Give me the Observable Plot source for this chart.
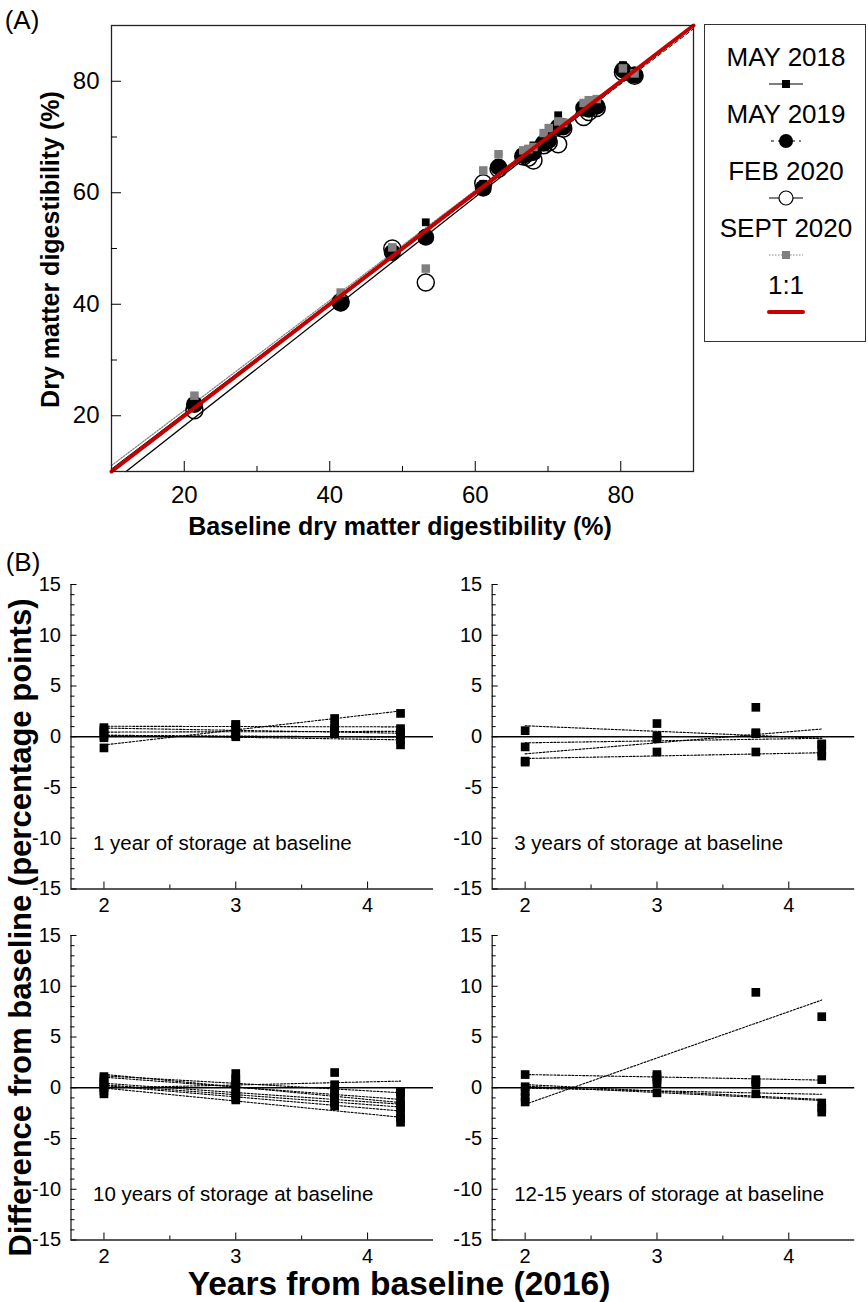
<!DOCTYPE html>
<html><head><meta charset="utf-8">
<script src="https://cdn.jsdelivr.net/npm/d3@7"></script>
<script src="https://cdn.jsdelivr.net/npm/@observablehq/plot@0.6"></script>
<style>
html,body{margin:0;padding:0;background:#fff;}
#root{position:relative;width:868px;height:1302px;overflow:hidden;font-family:"Liberation Sans",Arial,Helvetica,sans-serif;color:#000;}
#root > *{position:absolute;}
</style></head>
<body><div id="root"></div>
<script>
// ---------- Panel A data ----------
const dates = ["MAY 2018", "MAY 2019", "FEB 2020", "SEPT 2020"];
const baseline = [21.4, 41.5, 48.6, 53.2, 61.1, 63.2, 66.6, 67.3, 68.0, 69.4, 70.1, 71.4, 72.1, 74.9, 75.6, 76.7, 80.3, 81.9];
const may2018  = [22.3, 40.8, 49.0, 54.7, 61.6, 65.0, 67.3, 67.9, 68.5, 69.8, 70.6, 73.9, 72.6, 75.6, 76.1, 76.3, 82.9, 81.6];
const may2019  = [22.0, 40.2, 49.3, 52.0, 60.8, 64.6, 66.7, 67.0, 67.2, 68.9, 69.4, 71.8, 71.8, 75.2, 75.0, 75.5, 82.0, 81.1];
const feb2020  = [21.0, 40.4, 50.0, 43.9, 61.7, 64.3, 66.5, 66.3, 65.8, 68.5, 69.0, 68.7, 71.5, 73.6, 74.5, 75.2, 81.6, 81.0];
const sept2020 = [23.6, 42.1, 50.2, 46.4, 64.0, 66.9, 67.6, 67.8, 68.2, 70.7, 71.6, 72.8, 72.5, 76.1, 76.6, 76.8, 82.3, 81.4];
const fitIntercept = [0.5, 0.3, -2.31, 1.2];
const fitSlope = [0.995, 0.99, 1.0256, 0.987];
const oneToOne = [10, 90];
const ticksA = [20, 40, 60, 80];
const minorTicksA = [30, 50, 70];

// ---------- Panel B data ----------
const yearsFromBaseline = [2, 3, 3.75, 4.25];
const panelTitles = ["1 year of storage at baseline", "3 years of storage at baseline", "10 years of storage at baseline", "12-15 years of storage at baseline"];
const storage1yr = [
  [-1.1, 1.2, 1.8, 2.3],
  [0.9, 1.2, 1.1, 0.8],
  [0.7, 0.9, 0.5, 0.2],
  [0.5, 0.3, 0.8, 0.4],
  [0.1, 0.0, 0.4, -0.3],
  [-0.1, 0.2, 0.3, -0.8]
];
const storage3yr = [
  [0.6, 1.3, 0.4, -0.7],
  [-1.0, 0.1, 0.3, -0.8],
  [-2.5, -0.2, 2.9, -1.5],
  [-2.4, -1.5, -1.5, -1.9]
];
const storage10yr = [
  [1.1, 0.6, -0.2, -0.5],
  [0.9, 0.3, -0.6, -1.3],
  [0.6, 1.4, -0.9, -2.0],
  [0.3, -0.2, -1.2, -1.7],
  [0.0, -0.6, -1.5, -2.6],
  [-0.3, -1.0, -1.8, -3.4],
  [-0.6, 0.9, 1.5, -0.4],
  [0.2, -1.2, 0.3, -3.0]
];
const storage12to15yr = [
  [-1.4, 1.3, 9.4, 7.0],
  [1.3, 1.1, 0.8, 0.8],
  [0.1, -0.5, -0.6, -1.5],
  [-0.4, 0.5, 0.3, -2.4],
  [-0.9, 0.8, 0.6, -2.0]
];
const xDomainB = [1.75, 4.5];
const yDomainB = [-15, 15];
const xTicksB = [2, 3, 4];
const xMinorB = [2.5, 3.5];
const yTicksB = [-15, -10, -5, 0, 5, 10, 15];

// ---------- helpers ----------
const root = document.getElementById("root");
const FONT = '"Liberation Sans", Arial, Helvetica, sans-serif';
function place(el, left, top) { el.style.left = left + "px"; el.style.top = top + "px"; root.appendChild(el); return el; }
function label(text, {cx, top, size, bold = false, rotate = false, cy}) {
  const d = document.createElement("div");
  d.textContent = text;
  d.style.fontSize = size + "px";
  d.style.lineHeight = size + "px";
  d.style.height = size + "px";
  d.style.fontWeight = bold ? "bold" : "normal";
  d.style.whiteSpace = "nowrap";
  d.style.textAlign = "center";
  const w = 800;
  d.style.width = w + "px";
  if (rotate) {
    d.style.transform = "rotate(-90deg)";
    place(d, cx - w / 2, cy - size / 2);
  } else {
    place(d, cx - w / 2, top);
  }
  return d;
}
const svgStyle = {fontFamily: FONT, color: "black", background: "transparent", overflow: "visible"};

// ---------- Panel A ----------
const seriesA = [may2018, may2019, feb2020, sept2020];
const rowsA = dates.flatMap((d, j) => baseline.map((b, i) => ({date: d, base: b, dmd: seriesA[j][i]})));
const fitRows = dates.flatMap((d, j) => {
  const a = fitIntercept[j], b = fitSlope[j];
  const lo = Math.max(oneToOne[0], (oneToOne[0] - a) / b);
  const hi = Math.min(oneToOne[1], (oneToOne[1] - a) / b);
  return [lo, hi].map(x => ({date: d, x, y: a + b * x}));
});
const oneRows = oneToOne.map(v => ({x: v, y: v}));
const lineStyles = {
  "MAY 2018": {stroke: "black", strokeWidth: 1},
  "MAY 2019": {stroke: "black", strokeWidth: 1, strokeDasharray: "4,3"},
  "FEB 2020": {stroke: "black", strokeWidth: 1.3},
  "SEPT 2020": {stroke: "#888", strokeWidth: 1.3, strokeDasharray: "1.5,1.5"}
};
const byDate = d => rowsA.filter(r => r.date === d);

const plotA = Plot.plot({
  width: 700, height: 515,
  marginLeft: 111, marginRight: 7, marginTop: 25, marginBottom: 44,
  x: {domain: oneToOne, label: null}, y: {domain: oneToOne, label: null},
  style: {...svgStyle, fontSize: "24px"},
  marks: [
    ...dates.map(d => Plot.line(fitRows.filter(r => r.date === d), {x: "x", y: "y", ...lineStyles[d]})),
    Plot.dot(byDate("FEB 2020"), {x: "base", y: "dmd", r: 8.5, fill: "none", stroke: "black", strokeWidth: 1.5}),
    Plot.dot(byDate("MAY 2019"), {x: "base", y: "dmd", r: 8.5, fill: "black"}),
    Plot.dot(byDate("MAY 2018"), {x: "base", y: "dmd", symbol: "square", r: 4.4, fill: "black"}),
    Plot.dot(byDate("SEPT 2020"), {x: "base", y: "dmd", symbol: "square", r: 4.8, fill: "#808080"}),
    Plot.line(oneRows, {x: "x", y: "y", stroke: "#c40000", strokeWidth: 4}),
    Plot.frame({stroke: "#222", strokeWidth: 1.3}),
    Plot.axisX({ticks: ticksA, tickSize: -10, tickPadding: 24, fontSize: 24, tickFormat: d => d, label: null}),
    Plot.axisX({ticks: minorTicksA, tickSize: -5, tickFormat: () => "", label: null}),
    Plot.axisY({ticks: ticksA, tickSize: -10, tickPadding: 22, fontSize: 24, tickFormat: d => d, label: null}),
    Plot.axisY({ticks: minorTicksA, tickSize: -6, tickFormat: () => "", label: null})
  ]
});
place(plotA, 0, 0);

label("(A)", {cx: 22, top: 7, size: 26});
label("Dry matter digestibility (%)", {cx: 50, cy: 249, size: 25, bold: true, rotate: true});
label("Baseline dry matter digestibility (%)", {cx: 400, top: 514, size: 25, bold: true});

// Legend
const legend = document.createElement("div");
legend.style.width = "160px"; legend.style.height = "316px";
legend.style.border = "1.5px solid #333";
legend.style.background = "#fff";
place(legend, 704, 24);
const legendSymbols = {
  "MAY 2018": `<line x1="2" y1="10" x2="36" y2="10" stroke="black" stroke-width="1.2"/><rect x="15" y="6" width="8" height="8" fill="black"/>`,
  "MAY 2019": `<line x1="4" y1="10" x2="34" y2="10" stroke="black" stroke-width="1.2" stroke-dasharray="3,4"/><circle cx="19" cy="10" r="7" fill="black"/>`,
  "FEB 2020": `<line x1="2" y1="10" x2="36" y2="10" stroke="black" stroke-width="1.2"/><circle cx="19" cy="10" r="7" fill="white" stroke="black" stroke-width="1.2"/>`,
  "SEPT 2020": `<line x1="2" y1="10" x2="36" y2="10" stroke="#888" stroke-width="1.2" stroke-dasharray="1.5,1.5"/><rect x="15" y="6" width="8" height="8" fill="#808080"/>`,
  "1:1": `<line x1="2" y1="10" x2="36" y2="10" stroke="#c40000" stroke-width="4" stroke-linecap="round"/>`
};
[...dates, "1:1"].forEach((name, i) => {
  const ty = 57 + i * 57;
  label(name, {cx: 786, top: ty - 13, size: 26});
  const s = document.createElementNS("http://www.w3.org/2000/svg", "svg");
  s.setAttribute("width", 38); s.setAttribute("height", 20);
  s.innerHTML = legendSymbols[name];
  place(s, 767, ty + 27 - 10);
});

// ---------- Panel B ----------
const panelData = [storage1yr, storage3yr, storage10yr, storage12to15yr];
const layoutB = [
  {left: 0, top: 570, width: 440, ml: 70.5, mt: 14},
  {left: 436, top: 570, width: 432, ml: 55.7, mt: 14},
  {left: 0, top: 922, width: 440, ml: 70.5, mt: 13},
  {left: 436, top: 922, width: 432, ml: 55.7, mt: 13}
];
panelData.forEach((samples, p) => {
  const rows = samples.flatMap((vals, s) => vals.map((v, k) => ({sample: s, t: yearsFromBaseline[k], v})));
  const L = layoutB[p];
  const plot = Plot.plot({
    width: L.width, height: 350,
    marginLeft: L.ml, marginRight: L.width - 362.5 - L.ml, marginTop: L.mt, marginBottom: 350 - L.mt - 304.5,
    x: {domain: xDomainB, label: null}, y: {domain: yDomainB, label: null},
    style: {...svgStyle, fontSize: "20px"},
    marks: [
      Plot.ruleY([0], {stroke: "black", strokeWidth: 1.4}),
      Plot.linearRegressionY(rows, {x: "t", y: "v", z: "sample", ci: 0, stroke: "black", strokeWidth: 1.1, strokeDasharray: "2,1.6"}),
      Plot.dot(rows, {x: "t", y: "v", symbol: "square", r: 4.9, fill: "black"}),
      Plot.ruleX([xDomainB[0]], {stroke: "#222", strokeWidth: 1.3}),
      Plot.ruleY([yDomainB[0]], {stroke: "#222", strokeWidth: 1.3}),
      Plot.axisX({ticks: xTicksB, tickSize: -7, tickPadding: 16, fontSize: 20, tickFormat: d => d, label: null}),
      Plot.axisX({ticks: xMinorB, tickSize: -4, tickFormat: () => "", label: null}),
      Plot.axisY({ticks: yTicksB, tickSize: -6, tickPadding: 16, fontSize: 20, tickFormat: d => d, label: null}),
      Plot.axisY({ticks: d3.range(yDomainB[0], yDomainB[1] + 1).filter(v => v % 5 !== 0), tickSize: -4, tickFormat: () => "", label: null}),
      Plot.text([panelTitles[p]], {frameAnchor: "bottom-left", text: d => d, textAnchor: "start", dx: 22, dy: -39, fontSize: 20.5})
    ]
  });
  place(plot, L.left, L.top);
});

label("(B)", {cx: 23, top: 549, size: 26});
label("Difference from baseline (percentage points)", {cx: 20, cy: 927, size: 31, bold: true, rotate: true});
label("Years from baseline (2016)", {cx: 399, top: 1267, size: 33.5, bold: true});
</script>
</body></html>
